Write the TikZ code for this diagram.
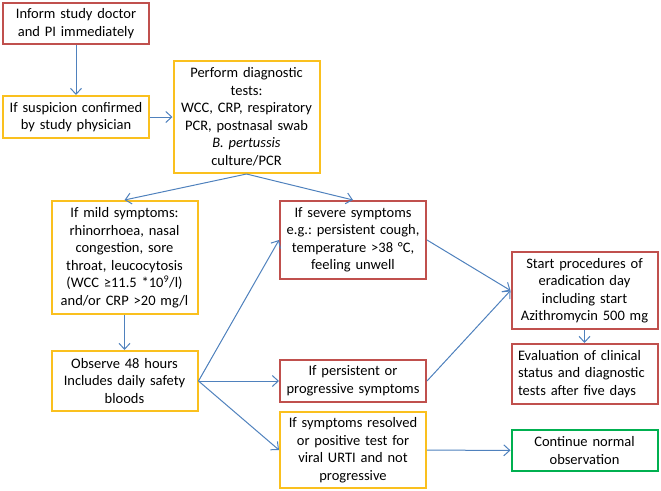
\documentclass[tikz,border=0pt]{standalone}
\usepackage{fontspec}
\setmainfont{Carlito}
\usetikzlibrary{arrows.meta}
\frenchspacing

\definecolor{boxred}{RGB}{192,80,77}
\definecolor{boxyellow}{RGB}{250,192,30}
\definecolor{boxgreen}{RGB}{0,176,80}
\definecolor{arrowblue}{RGB}{79,129,189}

\tikzset{
    box/.style={draw, line width=2pt, text width=142pt, inner sep=2pt, align=center,
        font=\fontsize{14.5}{17.5}\selectfont},
    redbox/.style={box, draw=boxred},
    yellowbox/.style={box, draw=boxyellow},
    greenbox/.style={box, draw=boxgreen},
    link/.style={draw=arrowblue, line width=1pt, -{Straight Barb[length=6pt,width=11pt]}}
}

\begin{document}
\begin{tikzpicture}[x=1pt, y=-1pt]

\useasboundingbox (0,0) rectangle (661,490);

% 第一列
\node[redbox, minimum height=41pt] (inform) at (76,23.5) {Inform study doctor\\and PI immediately};
\node[yellowbox, minimum height=42pt] (confirm) at (76,117) {If suspicion confirmed\\by study physician};

% 诊断
\node[yellowbox, minimum height=112pt] (tests) at (246.5,117) {Perform diagnostic\\tests:\\WCC, CRP, respiratory\\PCR, postnasal swab\\\textit{B. pertussis}\\culture/PCR};

% 第二列
\node[yellowbox, minimum height=113pt] (mild) at (124.5,257.5) {If mild symptoms:\\rhinorrhoea, nasal\\congestion, sore\\throat, leucocytosis\\(WCC ≥11.5 *10\textsuperscript{9}/l)\\and/or CRP >20 mg/l};
\node[yellowbox, minimum height=60pt] (observe) at (124.5,381) {Observe 48 hours\\Includes daily safety\\bloods};

% 第三列
\node[redbox, minimum height=78pt] (severe) at (353,240) {If severe symptoms\\e.g.: persistent cough,\\temperature >38 °C,\\feeling unwell};
\node[redbox, minimum height=42pt] (persist) at (353,381) {If persistent or\\progressive symptoms};
\node[yellowbox, minimum height=76pt] (resolved) at (353,450) {If symptoms resolved\\or positive test for\\viral URTI and not\\progressive};

% 第四列
\node[redbox, minimum height=77pt] (eradicate) at (584.5,290.5) {Start procedures of\\eradication day\\including start\\Azithromycin 500 mg};
\node[redbox, minimum height=60pt, align=left, text width=133pt, inner xsep=6.5pt] (evaluate) at (584.5,374) {Evaluation of clinical\\status and diagnostic\\tests after five days};
\node[greenbox, minimum height=41pt] (normal) at (584.5,450.5) {Continue normal\\observation};

% 箭头
\draw[link] (inform) -- (confirm);
\draw[link] (confirm) -- (tests);
\draw[link] (tests.south) -- (mild.north);
\draw[link] (tests.south) -- (severe.north);
\draw[link] (mild) -- (observe);
\draw[link] (observe.east) -- (severe.west);
\draw[link] (observe.east) -- (persist.west);
\draw[link] (observe.east) -- (resolved.west);
\draw[link] (severe.east) -- (eradicate.west);
\draw[link] (persist.east) -- (eradicate.west);
\draw[link] (eradicate) -- (evaluate);
\draw[link] (resolved) -- (normal);

\end{tikzpicture}
\end{document}
